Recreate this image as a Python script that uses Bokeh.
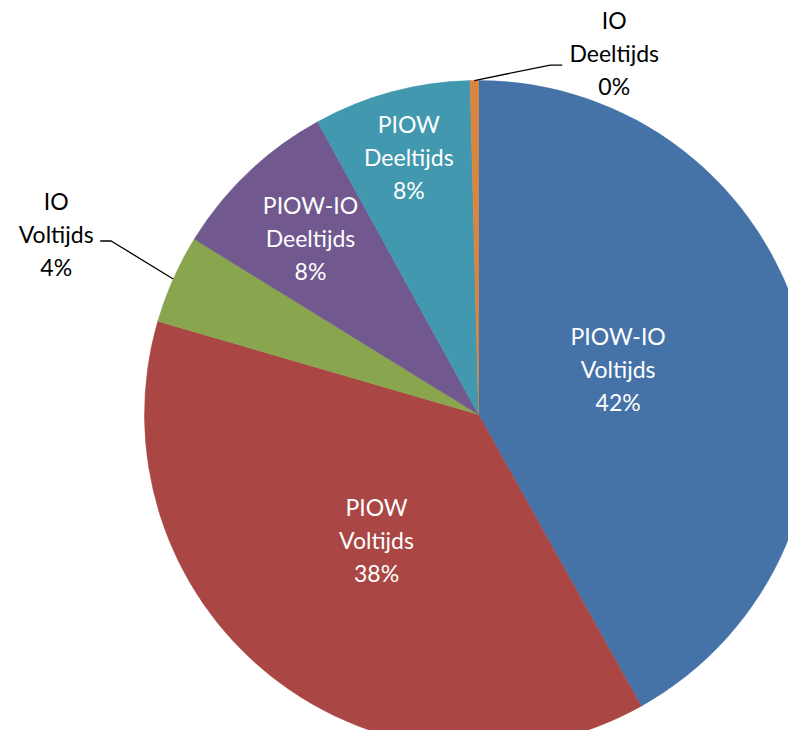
import numpy as np
from bokeh.plotting import figure
from bokeh.models import Range1d, ColumnDataSource
from bokeh.core.properties import value
from bokeh.embed import file_html
from bokeh.resources import INLINE

# ---- data ----
cat_line1 = ["PIOW-IO", "PIOW", "IO", "PIOW-IO", "PIOW", "IO"]
cat_line2 = ["Voltijds", "Voltijds", "Voltijds", "Deeltijds", "Deeltijds", "Deeltijds"]
shares = [41.9, 37.6, 4.3, 8.2, 7.6, 0.4]
colors = ["#4572A7", "#AA4643", "#89A54E", "#71588F", "#4198AF", "#DB843D"]

# ---- layout / style (not data) ----
W, H = 788, 730
cx, cy, R = 478, 316, 334
label_r = [0.44, 0.485, 1.375, 0.73, 0.80, 1.156]          # label radius / R
label_shift_deg = [-3.6, 0.5, -0.8, 0, 0, 21.3]            # label angle shift
inside = [True, True, False, True, True, False]
label_color = ["white", "white", "black", "white", "white", "black"]
row_gap = 33
FONT = "Lato"
FSIZE = "23px"

vals = np.array(shares, dtype=float)
frac = vals / vals.sum()
cum = np.cumsum(frac)
t_start = 2 * np.pi * (cum - frac)   # clockwise from 12 o'clock
t_end = 2 * np.pi * cum
t_mid = (t_start + t_end) / 2
pct = [f"{int(round(f * 100))}%" for f in frac]

p = figure(width=W, height=H, x_range=Range1d(0, W), y_range=Range1d(0, H),
           output_backend="svg", toolbar_location=None, min_border=0)
p.axis.visible = False
p.grid.visible = False
p.outline_line_color = None
p.background_fill_color = "white"
p.border_fill_color = "white"

src = ColumnDataSource(dict(
    x=[cx] * len(vals), y=[cy] * len(vals),
    start=list(np.pi / 2 - t_start), end=list(np.pi / 2 - t_end),
    color=colors))
p.wedge(x="x", y="y", radius=R, start_angle="start", end_angle="end",
        direction="clock", fill_color="color", line_color="color",
        line_width=0.5, source=src)

# labels
lx, ly = [], []
for i in range(len(vals)):
    a = t_mid[i] + np.deg2rad(label_shift_deg[i])
    r = label_r[i] * R
    lx.append(cx + r * np.sin(a))
    ly.append(cy + r * np.cos(a))
for i in range(len(vals)):
    for k, txt in enumerate([cat_line1[i], cat_line2[i], pct[i]]):
        p.text(x=[lx[i]], y=[ly[i] + row_gap * (1 - k)], text=[txt],
               text_font=value(FONT), text_font_size=FSIZE,
               text_color=label_color[i], text_align="center",
               text_baseline="middle")

# leader lines for outside labels
for i in range(len(vals)):
    if inside[i]:
        continue
    ex = cx + R * np.sin(t_mid[i])
    ey = cy + R * np.cos(t_mid[i])
    if lx[i] < cx:   # label on the left
        end_x = lx[i] + 44
        elb_x = end_x + 11
        yy = ly[i] - 7
    else:
        end_x = lx[i] - 52
        elb_x = end_x - 12
        yy = ly[i] - 12
    p.line(x=[ex, elb_x, end_x], y=[ey, yy, yy], line_color="black", line_width=1.3)

open("out.html", "w").write(file_html(p, INLINE))
